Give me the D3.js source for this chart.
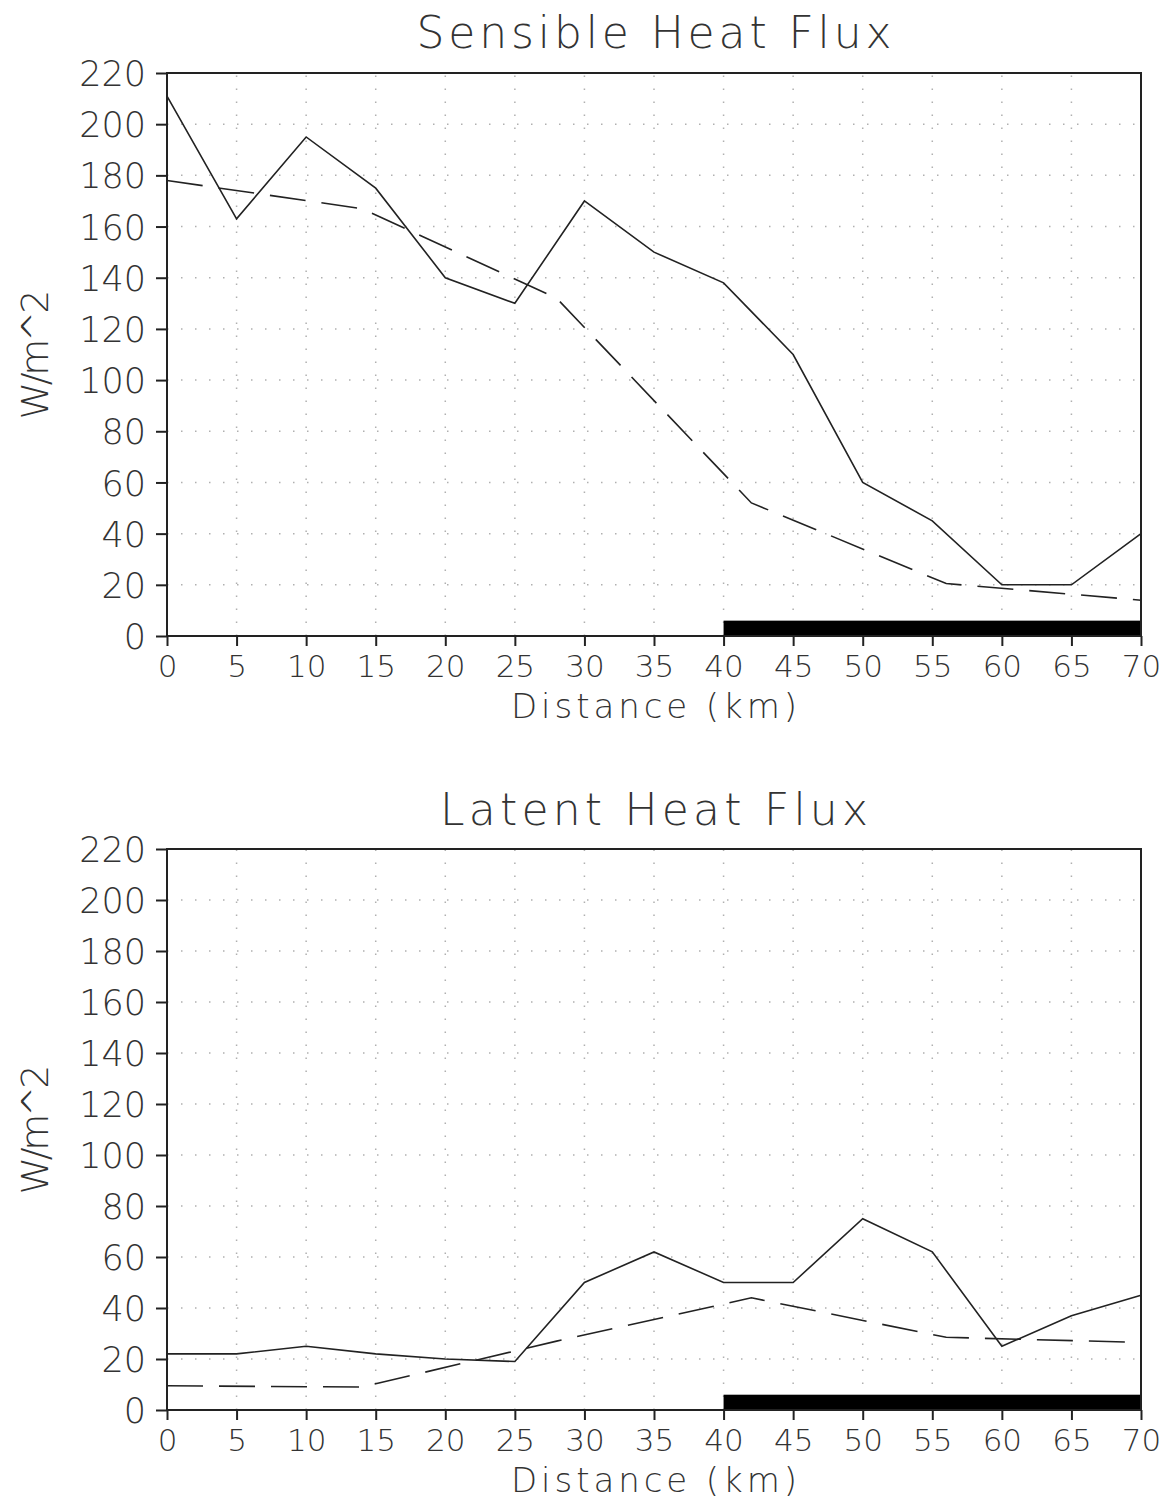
<!DOCTYPE html>
<html>
<head>
<meta charset="utf-8">
<script src="https://cdn.jsdelivr.net/npm/d3@7"></script>
<style>
  html, body { margin: 0; padding: 0; background: #fff; }
  svg text { font-family: "DejaVu Sans", sans-serif; font-weight: 200; fill: #333; }
</style>
</head>
<body>
<div id="chart"></div>
<script>
// Distance (km) ticks and values
const xTicks = [0, 5, 10, 15, 20, 25, 30, 35, 40, 45, 50, 55, 60, 65, 70];
const yTicks = [0, 20, 40, 60, 80, 100, 120, 140, 160, 180, 200, 220];

const distance = [0, 5, 10, 15, 20, 25, 30, 35, 40, 45, 50, 55, 60, 65, 70];
const sensibleSolid = [211, 163, 195, 175, 140, 130, 170, 150, 138, 110, 60, 45, 20, 20, 40];
const latentSolid = [22, 22, 25, 22, 20, 19, 50, 62, 50, 50, 75, 62, 25, 37, 45];

const smoothDist = [0, 14, 28, 42, 56, 70];
const sensibleDashed = [178, 167, 132, 52, 20.5, 14];
const latentDashed = [9.5, 9, 27, 44, 28.5, 26.5];

// black bar along the axis (km range and height in W/m^2)
const barRange = [40, 70];
const barHeight = 6;

const panels = [
  { title: 'Sensible Heat Flux', solid: sensibleSolid, dashed: sensibleDashed,
    top: 73, bottom: 636, titleY: 48, titleLen: 475 },
  { title: 'Latent Heat Flux', solid: latentSolid, dashed: latentDashed,
    top: 849, bottom: 1410, titleY: 825, titleLen: 428 }
];

const W = 1172, H = 1501;
const left = 167, right = 1141;

const svg = d3.select('#chart').append('svg')
  .attr('width', W).attr('height', H);

const x = d3.scaleLinear().domain([0, 70]).range([left, right]);

panels.forEach(p => drawPanel(p));

function drawPanel(p) {
  const y = d3.scaleLinear().domain([0, 220]).range([p.bottom, p.top]);
  const g = svg.append('g');

  // dotted grid
  g.append('g').selectAll('line')
    .data(xTicks.slice(1, -1))
    .join('line')
    .attr('x1', d => x(d)).attr('x2', d => x(d))
    .attr('y1', p.bottom).attr('y2', p.top)
    .attr('stroke', '#b0b0b0').attr('stroke-width', 1.5)
    .attr('stroke-dasharray', '1.5,11.5');
  g.append('g').selectAll('line')
    .data(yTicks.slice(1, -1))
    .join('line')
    .attr('x1', left).attr('x2', right)
    .attr('y1', d => y(d)).attr('y2', d => y(d))
    .attr('stroke', '#b0b0b0').attr('stroke-width', 1.5)
    .attr('stroke-dasharray', '1.5,12.5');

  // bar
  g.append('rect')
    .attr('x', x(barRange[0])).attr('width', x(barRange[1]) - x(barRange[0]))
    .attr('y', y(barHeight)).attr('height', y(0) - y(barHeight))
    .attr('fill', '#000');

  // lines
  const line = d3.line().x(d => x(d[0])).y(d => y(d[1]));
  g.append('path')
    .attr('d', line(distance.map((d, i) => [d, p.solid[i]])))
    .attr('fill', 'none').attr('stroke', '#222').attr('stroke-width', 1.6);
  g.append('path')
    .attr('d', line(smoothDist.map((d, i) => [d, p.dashed[i]])))
    .attr('fill', 'none').attr('stroke', '#222').attr('stroke-width', 1.6)
    .attr('stroke-dasharray', '36,16');

  // frame
  g.append('rect')
    .attr('x', left).attr('y', p.top)
    .attr('width', right - left).attr('height', p.bottom - p.top)
    .attr('fill', 'none').attr('stroke', '#222').attr('stroke-width', 2);

  // axes
  const yAxis = d3.axisLeft(y).tickValues(yTicks).tickSize(11).tickPadding(10);
  const xAxis = d3.axisBottom(x).tickValues(xTicks).tickSize(10).tickPadding(6);

  const ya = g.append('g').attr('transform', `translate(${left},0)`).call(yAxis);
  const xa = g.append('g').attr('transform', `translate(0,${p.bottom})`).call(xAxis);
  [ya, xa].forEach(a => {
    a.select('.domain').remove();
    a.selectAll('line').attr('stroke', '#222').attr('stroke-width', 2);
    a.selectAll('text').attr('fill', '#333')
      .style('font-family', '"DejaVu Sans", sans-serif').style('font-weight', 200);
  });
  ya.selectAll('text').attr('font-size', 35).attr('dy', '0.36em');
  xa.selectAll('text').attr('font-size', 31).attr('dy', '0.8em');

  // titles
  g.append('text')
    .attr('x', (left + right) / 2).attr('y', p.titleY)
    .attr('text-anchor', 'middle').attr('font-size', 44)
    .attr('textLength', p.titleLen).attr('lengthAdjust', 'spacing')
    .text(p.title);

  g.append('text')
    .attr('x', (left + right) / 2).attr('y', p.bottom + 82)
    .attr('text-anchor', 'middle').attr('font-size', 34)
    .attr('textLength', 286).attr('lengthAdjust', 'spacing')
    .text('Distance (km)');

  const midY = (p.top + p.bottom) / 2;
  g.append('text')
    .attr('transform', `translate(48,${midY}) rotate(-90)`)
    .attr('text-anchor', 'middle').attr('font-size', 38)
    .attr('textLength', 130).attr('lengthAdjust', 'spacing')
    .text('W/m^2');
}
</script>
</body>
</html>
